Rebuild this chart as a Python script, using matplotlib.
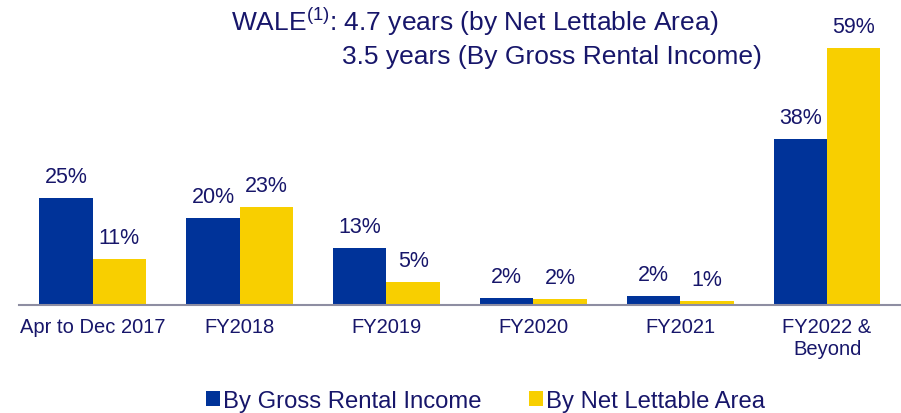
import matplotlib
matplotlib.use("Agg")
import matplotlib.pyplot as plt
import numpy as np

plt.rcParams['font.family'] = ['Liberation Sans', 'DejaVu Sans']
plt.rcParams['mathtext.fontset'] = 'custom'
plt.rcParams['mathtext.rm'] = 'Liberation Sans'

categories = ["Apr to Dec 2017", "FY2018", "FY2019", "FY2020", "FY2021", "FY2022 &\nBeyond"]
gross_rental_income = [24.6, 20.0, 13.0, 1.6, 2.1, 38.0]
net_lettable_area = [10.5, 22.5, 5.2, 1.4, 1.0, 59.0]
gri_labels = ["25%", "20%", "13%", "2%", "2%", "38%"]
nla_labels = ["11%", "23%", "5%", "2%", "1%", "59%"]
series_names = ["By Gross Rental Income", "By Net Lettable Area"]

BLUE = "#003399"
YELLOW = "#F8CF00"
TEXT = "#17166A"
AXIS = "#8E8EA2"

W, H = 901, 414
fig = plt.figure(figsize=(W / 100, H / 100), dpi=100)
ax_left, ax_right = 19.3, 900.5
ax_bottom_px, ax_top_px = 306, 20
ax = fig.add_axes([ax_left / W, 1 - ax_bottom_px / H,
                   (ax_right - ax_left) / W, (ax_bottom_px - ax_top_px) / H])

x = np.arange(len(categories))
bw = 0.363
b1 = ax.bar(x - bw / 2, gross_rental_income, bw, color=BLUE, label=series_names[0])
b2 = ax.bar(x + bw / 2, net_lettable_area, bw, color=YELLOW, label=series_names[1])

for bars, labels in ((b1, gri_labels), (b2, nla_labels)):
    for rect, lab in zip(bars, labels):
        ax.annotate(lab, (rect.get_x() + rect.get_width() / 2, rect.get_height()),
                    xytext=(0, 11.5), textcoords='offset points',
                    ha='center', va='baseline', fontsize=15.5, color=TEXT)

ax.set_xlim(-0.5, 5.5)
ax.set_ylim(0, (ax_bottom_px - ax_top_px) / 4.36)
ax.set_xticks(x)
ax.set_xticklabels(categories, fontsize=14.5, color=TEXT)
ax.tick_params(axis='x', length=0, pad=9)
ax.set_yticks([])
for s in ('top', 'right', 'left'):
    ax.spines[s].set_visible(False)
ax.spines['bottom'].set_color(AXIS)
ax.spines['bottom'].set_linewidth(1.5)

fig.text(231 / W, 1 - 31 / H,
         r"WALE$^{\mathrm{(1)}}$: 4.7 years (by Net Lettable Area)",
         fontsize=19, color=TEXT, ha='left', va='baseline')
fig.text(342 / W, 1 - 64 / H,
         "3.5 years (By Gross Rental Income)",
         fontsize=19, color=TEXT, ha='left', va='baseline')

fig.legend(handles=[b1, b2], loc='center',
           bbox_to_anchor=((201 + 770) / 2 / W, 1 - 402 / H),
           ncol=2, frameon=False, fontsize=17.2, labelcolor=TEXT,
           handlelength=0.58, handleheight=0.58, handletextpad=0.12,
           columnspacing=2.0, borderpad=0, borderaxespad=0)

fig.savefig("out.png", dpi=100)
